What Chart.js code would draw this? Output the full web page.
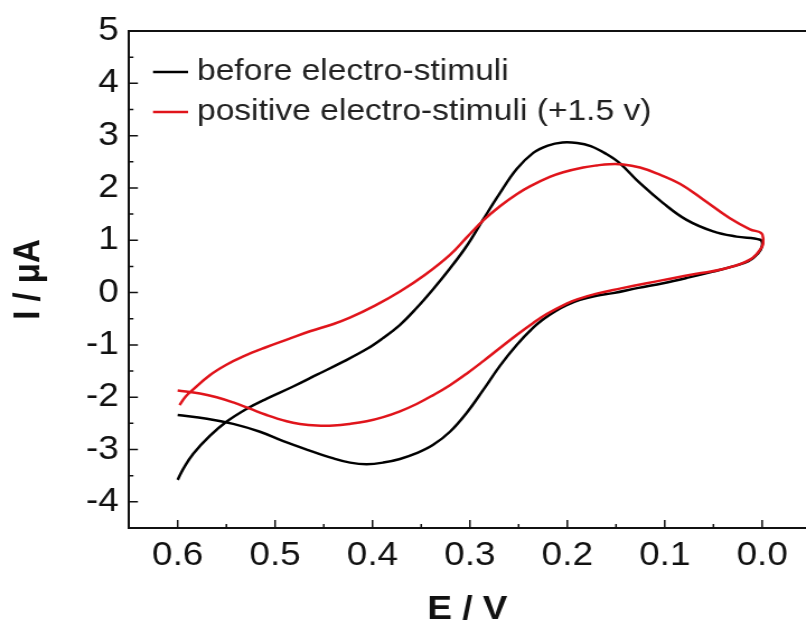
<!DOCTYPE html>
<html lang="en">
<head>
<meta charset="utf-8">
<title>CV before / after electro-stimuli</title>
<script src="https://cdn.jsdelivr.net/npm/chart.js@4.4.0/dist/chart.umd.min.js"></script>
<style>
  html, body { margin: 0; padding: 0; background: #fff; overflow: hidden; }
  /* the original figure is a bit stretched sideways */
  #wrap { width: 720px; height: 626px; transform: scaleX(1.1194); transform-origin: 0 0; }
</style>
</head>
<body>
<div id="wrap"><canvas id="cv" width="720" height="626"></canvas></div>

<script>
// series labels
const seriesLabels = ['before electro-stimuli', 'positive electro-stimuli (+1.5 v)'];

// before electro-stimuli (E in V, I in uA), read along the loop
const blackE = [0.600, 0.594, 0.584, 0.567, 0.550, 0.529, 0.509, 0.482, 0.457, 0.430, 0.406, 0.390, 0.372, 0.355,
  0.338, 0.3205, 0.303, 0.2863, 0.2692, 0.252, 0.235, 0.220, 0.205, 0.190, 0.176, 0.160, 0.146, 0.1254, 0.1016,
  0.0776, 0.0503, 0.0263, 0.002,
  0.000, 0.004, 0.014,
  0.030, 0.0503, 0.075, 0.1016, 0.127, 0.153, 0.170, 0.187, 0.2007, 0.2127, 0.2247, 0.235, 0.252, 0.2692, 0.2863,
  0.3034, 0.3205, 0.3377, 0.3547, 0.3718, 0.389, 0.406, 0.423, 0.440, 0.466, 0.4916, 0.5155, 0.543, 0.570, 0.600];
const blackI = [-3.58, -3.36, -3.08, -2.74, -2.47, -2.22, -2.03, -1.80, -1.57, -1.32, -1.08, -0.88, -0.62, -0.30,
  0.06, 0.46, 0.90, 1.40, 1.90, 2.36, 2.67, 2.81, 2.87, 2.86, 2.80, 2.65, 2.47, 2.09, 1.71,
  1.39, 1.17, 1.07, 1.01,
  0.90, 0.75, 0.60,
  0.50, 0.40, 0.29, 0.18, 0.09, -0.01, -0.06, -0.14, -0.24, -0.36, -0.51, -0.67, -1.00, -1.40, -1.86,
  -2.30, -2.66, -2.91, -3.07, -3.18, -3.25, -3.28, -3.25, -3.17, -3.01, -2.84, -2.66, -2.51, -2.41, -2.34];

// positive electro-stimuli (+1.5 v)
const redE = [0.598, 0.592, 0.584, 0.567, 0.550, 0.5326, 0.510, 0.4865, 0.4642, 0.440, 0.4232, 0.3975, 0.3718, 0.346,
  0.3205, 0.303, 0.2863, 0.2692, 0.252, 0.2384, 0.218, 0.2042, 0.1837, 0.170, 0.157, 0.1426, 0.1254, 0.1084, 0.0845,
  0.0606, 0.0331, 0.0125, 0.001,
  -0.001, 0.000,
  0.0125, 0.040, 0.0673, 0.093, 0.1186, 0.145, 0.170, 0.190, 0.2007, 0.2212, 0.235, 0.252, 0.2692, 0.2863, 0.3034,
  0.3205, 0.3377, 0.3547, 0.3718, 0.389, 0.406, 0.4232, 0.440, 0.4573, 0.4745, 0.4881, 0.5087, 0.5258, 0.5429,
  0.560, 0.5771, 0.600];
const redI = [-2.15, -1.99, -1.85, -1.58, -1.38, -1.22, -1.05, -0.89, -0.74, -0.60, -0.48, -0.25, 0.02, 0.34,
  0.72, 1.06, 1.38, 1.65, 1.88, 2.03, 2.21, 2.30, 2.39, 2.43, 2.455, 2.45, 2.39, 2.28, 2.08,
  1.78, 1.42, 1.21, 1.14,
  1.04, 0.88,
  0.63, 0.45, 0.36, 0.27, 0.18, 0.08, -0.02, -0.13, -0.21, -0.41, -0.58, -0.81, -1.06, -1.31, -1.55,
  -1.77, -1.96, -2.13, -2.27, -2.38, -2.46, -2.51, -2.54, -2.54, -2.51, -2.46, -2.34, -2.22, -2.10,
  -2.00, -1.93, -1.87];

// axis ticks
const xTicks = [0.6, 0.5, 0.4, 0.3, 0.2, 0.1, 0.0];
const xMinor = [0.55, 0.45, 0.35, 0.25, 0.15, 0.05];
const yTicks = [-4, -3, -2, -1, 0, 1, 2, 3, 4, 5];
const yMinor = [-3.5, -2.5, -1.5, -0.5, 0.5, 1.5, 2.5, 3.5, 4.5];

const FONT = '"Liberation Sans", Arial, sans-serif';
Chart.defaults.font.family = FONT;
Chart.defaults.color = '#111';

function pts(xs, ys) {
  return xs.map((x, i) => ({ x: x, y: ys[i] }));
}

// box top line, inward tick marks and the inset legend
const frame = {
  id: 'frame',
  afterDraw(chart) {
    const { ctx, chartArea: a, scales } = chart;
    const sx = scales.x, sy = scales.y;
    ctx.save();
    ctx.strokeStyle = '#111';
    ctx.lineWidth = 2;
    ctx.beginPath();
    ctx.moveTo(a.left - 1, a.top);
    ctx.lineTo(a.right, a.top);
    ctx.stroke();

    ctx.lineWidth = 1.5;
    ctx.beginPath();
    xTicks.forEach(v => { const p = sx.getPixelForValue(v); ctx.moveTo(p, a.bottom); ctx.lineTo(p, a.bottom - 8); });
    xMinor.forEach(v => { const p = sx.getPixelForValue(v); ctx.moveTo(p, a.bottom); ctx.lineTo(p, a.bottom - 4); });
    yTicks.forEach(v => { const p = sy.getPixelForValue(v); ctx.moveTo(a.left, p); ctx.lineTo(a.left + 8, p); });
    yMinor.forEach(v => { const p = sy.getPixelForValue(v); ctx.moveTo(a.left, p); ctx.lineTo(a.left + 4, p); });
    ctx.stroke();

    // legend
    ctx.font = '30px ' + FONT;
    ctx.textBaseline = 'alphabetic';
    ctx.textAlign = 'left';
    chart.data.datasets.forEach((ds, i) => {
      const y = 72 + i * 40;
      ctx.strokeStyle = ds.borderColor;
      ctx.lineWidth = 2.5;
      ctx.beginPath();
      ctx.moveTo(136.7, y);
      ctx.lineTo(168, y);
      ctx.stroke();
      ctx.fillStyle = '#222';
      ctx.fillText(ds.label, 176, y + 8);
    });
    ctx.restore();
  }
};

new Chart(document.getElementById('cv'), {
  type: 'scatter',
  data: {
    datasets: [
      { label: seriesLabels[0], data: pts(blackE, blackI), borderColor: '#000000', borderWidth: 2.5,
        showLine: true, pointRadius: 0, tension: 0.4, order: 2 },
      { label: seriesLabels[1], data: pts(redE, redI), borderColor: '#e0141b', borderWidth: 2.5,
        showLine: true, pointRadius: 0, tension: 0.4, order: 1 }
    ]
  },
  options: {
    responsive: false,
    animation: false,
    layout: { padding: { top: 31, right: 0, bottom: 0, left: 0 } },
    plugins: { legend: { display: false }, tooltip: { enabled: false } },
    scales: {
      x: {
        type: 'linear',
        reverse: true,
        min: -0.045,
        max: 0.65,
        afterBuildTicks: s => { s.ticks = xTicks.map(v => ({ value: v })); },
        afterFit: s => { s.height = 98; },
        ticks: { font: { size: 33 }, padding: 8, color: '#111', callback: v => v.toFixed(1), maxRotation: 0 },
        grid: { drawOnChartArea: false, drawTicks: false },
        border: { display: true, color: '#111', width: 2 },
        title: { display: true, text: 'E / V', color: '#111',
                 font: { size: 33, weight: 'bold', lineHeight: 1 }, padding: { top: 0, bottom: 0 } }
      },
      y: {
        min: -4.5,
        max: 5,
        afterBuildTicks: s => { s.ticks = yTicks.map(v => ({ value: v })); },
        afterFit: s => { s.width = 115.2; },
        ticks: { font: { size: 33 }, padding: 9, color: '#111', callback: v => String(v) },
        grid: { drawOnChartArea: false, drawTicks: false },
        border: { display: true, color: '#111', width: 2 },
        title: { display: true, text: 'I / μA', color: '#111',
                 font: { size: 33, weight: 'bold', lineHeight: 1 }, padding: { top: 9.5, bottom: 0 } }
      }
    }
  },
  plugins: [frame]
});
</script>
</body>
</html>
